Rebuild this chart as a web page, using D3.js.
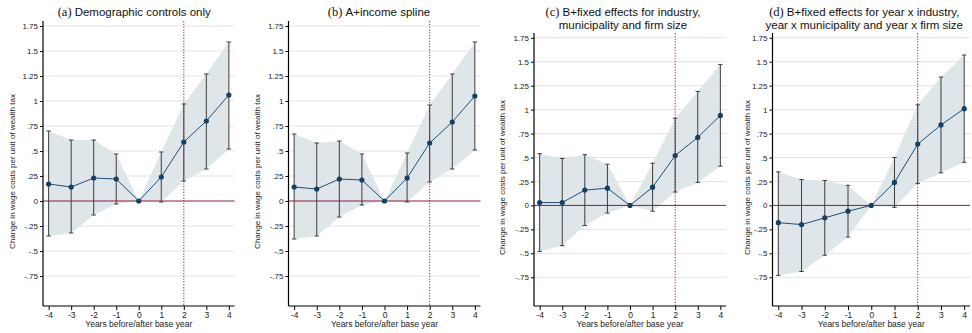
<!DOCTYPE html>
<html><head><meta charset="utf-8">
<script src="https://cdn.jsdelivr.net/npm/d3@7"></script>
<style>body{margin:0;background:#fff}svg{display:block}</style>
</head><body>
<svg id="chart" width="972" height="333"></svg>
<script>
const years = [-4,-3,-2,-1,0,1,2,3,4];
const xTickLabels = ["-4","-3","-2","-1","0","1","2","3","4"];
const yTicks = [-0.75,-0.5,-0.25,0,0.25,0.5,0.75,1,1.25,1.5,1.75];
const yTickLabels = ["-.75","-.5","-.25","0",".25",".5",".75","1","1.25","1.5","1.75"];

const estA = [0.17,0.14,0.23,0.22,0,0.24,0.59,0.80,1.06];
const lowA = [-0.35,-0.32,-0.14,-0.03,0,-0.01,0.20,0.32,0.52];
const highA = [0.70,0.61,0.61,0.47,0,0.49,0.97,1.27,1.59];

const estB = [0.14,0.12,0.22,0.21,0,0.23,0.58,0.79,1.05];
const lowB = [-0.38,-0.35,-0.16,-0.04,0,-0.01,0.19,0.32,0.51];
const highB = [0.67,0.58,0.60,0.47,0,0.48,0.96,1.27,1.59];

const estC = [0.03,0.03,0.16,0.18,0,0.19,0.52,0.71,0.94];
const lowC = [-0.48,-0.42,-0.21,-0.08,0,-0.06,0.14,0.24,0.41];
const highC = [0.54,0.49,0.53,0.43,0,0.44,0.91,1.19,1.47];

const estD = [-0.18,-0.20,-0.13,-0.06,0,0.24,0.64,0.84,1.01];
const lowD = [-0.73,-0.69,-0.52,-0.33,0,-0.02,0.23,0.34,0.45];
const highD = [0.35,0.27,0.26,0.21,0,0.50,1.05,1.34,1.57];

const titleTags = ["(a)","(b)","(c)","(d)"];
const titleLines = [
  ["Demographic controls only"],
  ["A+income spline"],
  ["B+fixed effects for industry,","municipality and firm size"],
  ["B+fixed effects for year x industry,","year x municipality and year x firm size"]
];
const yLabel = "Change in wage costs per unit of wealth tax";
const xLabel = "Years before/after base year";
const baseYear = 2;

const series = [[estA,lowA,highA],[estB,lowB,highB],[estC,lowC,highC],[estD,lowD,highD]];

// layout (positions)
const layout = [
  {left:43, right:234.5, top:21, bottom:306, ylab:12, tdx:-4.5},
  {left:288.5, right:480.5, top:21, bottom:306, ylab:257, tdx:-5.5},
  {left:534, right:726, top:33, bottom:306, ylab:502, tdx:-7},
  {left:772.5, right:970, top:33, bottom:306, ylab:747, tdx:-7}
];

const svg = d3.select("#chart");
const sans = "'Liberation Sans', Arial, Helvetica, sans-serif";
const serif = "'Liberation Serif', 'Times New Roman', serif";

series.forEach((s, i) => {
  const L = layout[i];
  const [est, lo, hi] = s;
  const x = d3.scaleLinear().domain([-4.25, 4.25]).range([L.left, L.right]);
  const y = d3.scaleLinear().domain([-1.05, 1.8]).range([L.bottom, L.top]);
  const g = svg.append("g");

  // gridlines
  g.selectAll("line.grid").data(yTicks.filter(t => t !== 0)).enter().append("line")
    .attr("x1", L.left).attr("x2", L.right)
    .attr("y1", d => y(d)).attr("y2", d => y(d))
    .attr("stroke", "#e3e3e3").attr("stroke-width", 1);

  // CI area
  const area = d3.area().x((d, j) => x(years[j])).y0((d, j) => y(lo[j])).y1((d, j) => y(hi[j]));
  g.append("path").datum(est).attr("d", area).attr("fill", "#dce3e8").attr("fill-opacity", 0.9);

  // zero line
  g.append("line").attr("x1", L.left).attr("x2", L.right).attr("y1", y(0)).attr("y2", y(0))
    .attr("stroke", "#8c1d3c").attr("stroke-width", 1);

  // vertical base-year line
  g.append("line").attr("x1", x(baseYear)).attr("x2", x(baseYear)).attr("y1", L.top).attr("y2", L.bottom)
    .attr("stroke", "#b3103e").attr("stroke-width", 1).attr("stroke-dasharray", "1.2,1.6");

  // error bars
  years.forEach((yr, j) => {
    if (lo[j] === hi[j]) return;
    const cx = x(yr);
    g.append("line").attr("x1", cx).attr("x2", cx).attr("y1", y(lo[j])).attr("y2", y(hi[j]))
      .attr("stroke", "#3c3c3c").attr("stroke-width", 1);
    [lo[j], hi[j]].forEach(v => {
      g.append("line").attr("x1", cx - 2.2).attr("x2", cx + 2.2).attr("y1", y(v)).attr("y2", y(v))
        .attr("stroke", "#3c3c3c").attr("stroke-width", 1);
    });
  });

  // line and points
  const line = d3.line().x((d, j) => x(years[j])).y(d => y(d));
  g.append("path").datum(est).attr("d", line).attr("fill", "none").attr("stroke", "#1f4e79").attr("stroke-width", 1);
  g.selectAll("circle").data(est).enter().append("circle")
    .attr("cx", (d, j) => x(years[j])).attr("cy", d => y(d)).attr("r", 2.6).attr("fill", "#173f5f");

  // y axis
  const yAxis = d3.axisLeft(y).tickValues(yTicks).tickSize(3).tickPadding(2)
    .tickFormat((d, k) => yTickLabels[k]);
  const ya = g.append("g").attr("transform", `translate(${L.left},0)`).call(yAxis);
  ya.select(".domain").attr("d", `M0,${L.top}V${L.bottom}`).attr("stroke", "#000").attr("stroke-width", 1.2);
  ya.selectAll("text").attr("font-family", sans).attr("font-size", 8).attr("fill", "#222");

  // x axis
  const xAxis = d3.axisBottom(x).tickValues(years).tickSize(4).tickPadding(2)
    .tickFormat((d, k) => xTickLabels[k]);
  const xa = g.append("g").attr("transform", `translate(0,${L.bottom})`).call(xAxis);
  xa.select(".domain").attr("d", `M${L.left},0H${L.right}`).attr("stroke", "#000").attr("stroke-width", 1.2);
  xa.selectAll("text").attr("font-family", sans).attr("font-size", 8.5).attr("fill", "#222");

  // axis titles
  g.append("text").attr("transform", `translate(${L.ylab + 3},${(L.top + L.bottom) / 2 + 8}) rotate(-90)`)
    .attr("text-anchor", "middle").attr("font-family", sans).attr("font-size", 8).attr("fill", "#222").text(yLabel);
  g.append("text").attr("x", (L.left + L.right) / 2).attr("y", 327)
    .attr("text-anchor", "middle").attr("font-family", sans).attr("font-size", 8.5).attr("fill", "#222").text(xLabel);

  // title
  const cx = (L.left + L.right) / 2 + L.tdx;
  const lines = titleLines[i];
  lines.forEach((ln, k) => {
    const t = g.append("text").attr("x", cx).attr("y", k === 0 ? 15.5 : 28.5).attr("text-anchor", "middle")
      .attr("font-family", sans).attr("font-size", 11.5).attr("fill", "#111");
    if (k === 0) {
      t.append("tspan").attr("font-family", serif).attr("font-size", 12.5).text(titleTags[i] + " ");
    }
    t.append("tspan").text(ln);
  });
});
</script>
</body></html>
